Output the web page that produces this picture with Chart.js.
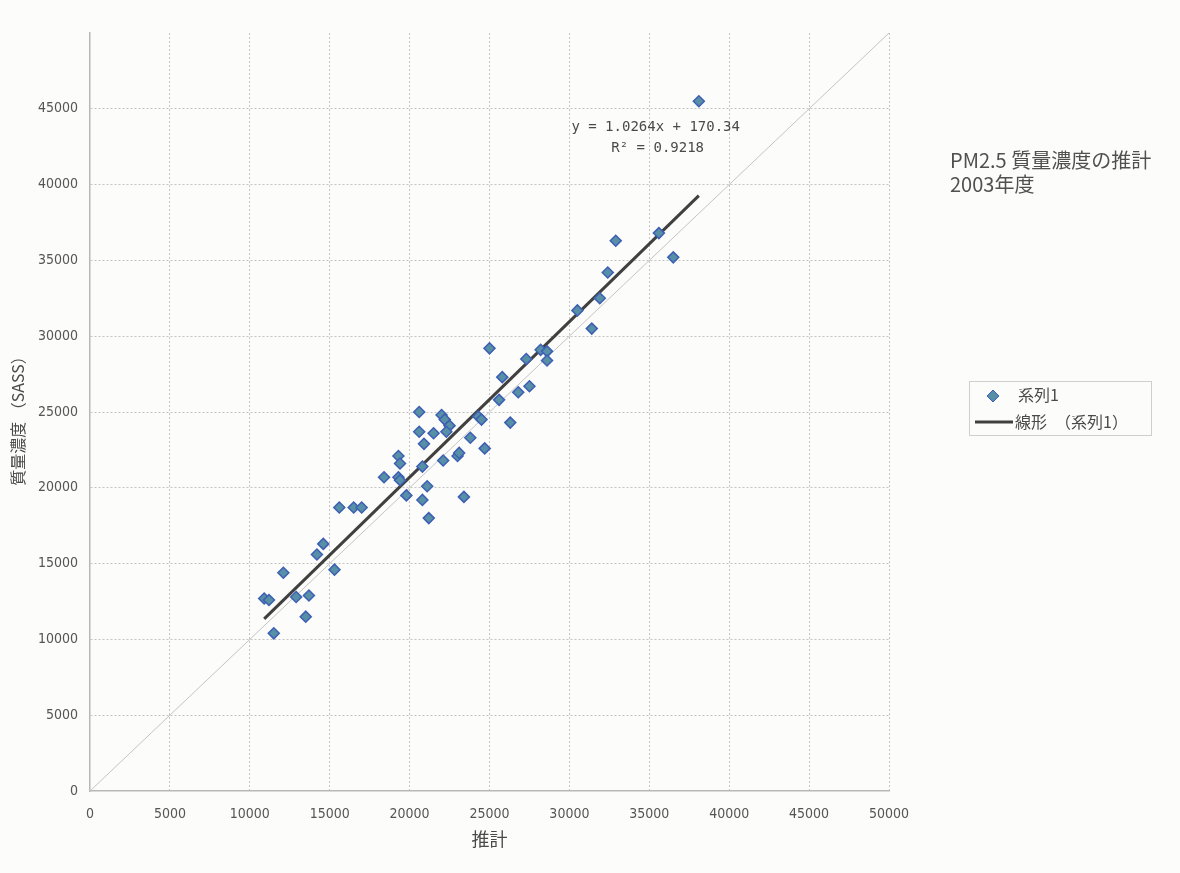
<!DOCTYPE html>
<html lang="ja">
<head>
<meta charset="utf-8">
<title>PM2.5 質量濃度の推計 2003年度</title>
<script src="https://cdn.jsdelivr.net/npm/chart.js@4/dist/chart.umd.min.js"></script>
<style>
  html, body { margin: 0; padding: 0; background: #fcfcfa; }
  #wrap { position: relative; width: 1180px; height: 873px; }
</style>
</head>
<body>
<div id="wrap"><canvas id="c" width="1180" height="873"></canvas></div>
<script>
// 推計値 (x) と SASS 実測の質量濃度 (y)
const estimate = [
  10900, 11200, 12100, 12900, 13700, 13500, 11500, 14200, 14600, 15300, 15600, 16500, 17000,
  18400, 19300, 19400, 19300, 19400, 19800, 20600, 20600, 20800, 20800, 20900, 21100, 21200,
  21500, 22000, 22200, 22500, 22300, 22100, 23000, 23100, 23400, 23800, 24300, 24500, 24700,
  25000, 25600, 25800, 26300, 26800, 27300, 27500, 28200, 28600, 28600, 30500, 31400, 31900,
  32400, 32900, 35600, 36500, 38100
];
const massSASS = [
  12700, 12600, 14400, 12800, 12900, 11500, 10400, 15600, 16300, 14600, 18700, 18700, 18700,
  20700, 20700, 20500, 22100, 21600, 19500, 25000, 23700, 21400, 19200, 22900, 20100, 18000,
  23600, 24800, 24500, 24100, 23700, 21800, 22100, 22300, 19400, 23300, 24700, 24500, 22600,
  29200, 25800, 27300, 24300, 26300, 28500, 26700, 29100, 29000, 28400, 31700, 30500, 32500,
  34200, 36300, 36800, 35200, 45500
];

// 近似直線 y = 1.0264x + 170.34
const slope = 1.0264;
const intercept = 170.34;
const rSquared = 0.9218;

// 軸の目盛
const axisMax = 50000;
const tickStep = 5000;

const seriesName = '系列1';
const trendName = '線形　（系列1）';
const titleLines = ['PM2.5 質量濃度の推計', '2003年度'];
const xTitle = '推計';
const yTitle = '質量濃度 （SASS）';

const points = estimate.map((x, i) => ({ x, y: massSASS[i] }));
const xMin = Math.min(...estimate);
const xMax = Math.max(...estimate);
const trend = [xMin, xMax].map(x => ({ x, y: slope * x + intercept }));
const diagonal = [{ x: 0, y: 0 }, { x: axisMax, y: axisMax }];

const jp = '"Noto Sans CJK JP", "Noto Sans", sans-serif';
const tickFont = { family: '"DejaVu Sans Condensed", "DejaVu Sans", sans-serif', size: 14 };

// 軸タイトル・式・凡例・右側の見出し
const annotations = {
  id: 'annotations',
  afterDraw(chart) {
    const { ctx, scales } = chart;
    ctx.save();
    ctx.fillStyle = '#4a4a4a';
    ctx.textBaseline = 'middle';

    // 回帰式
    ctx.font = '14px "DejaVu Sans Mono", monospace';
    ctx.textAlign = 'center';
    const ex = scales.x.getPixelForValue(35400);
    const ey = scales.y.getPixelForValue(43800);
    ctx.fillText('y = ' + slope.toFixed(4) + 'x + ' + intercept.toFixed(2), ex, ey);
    ctx.fillText('R² = ' + rSquared.toFixed(4), ex + 2, ey + 21);

    // 軸タイトル
    ctx.font = '18px ' + jp;
    ctx.fillText(xTitle, (chart.chartArea.left + chart.chartArea.right) / 2, 839);
    ctx.save();
    ctx.translate(18, 417);
    ctx.rotate(-Math.PI / 2);
    ctx.font = '16px ' + jp;
    ctx.fillText(yTitle, 0, 0);
    ctx.restore();

    // 見出し
    ctx.textAlign = 'left';
    ctx.font = '20px ' + jp;
    ctx.fillStyle = '#505050';
    ctx.fillText(titleLines[0], 950, 160);
    ctx.fillText(titleLines[1], 950, 184);

    // 凡例
    ctx.strokeStyle = '#cfcfcf';
    ctx.lineWidth = 1;
    ctx.strokeRect(969.5, 381.5, 182, 54);
    const ds0 = chart.data.datasets[0];
    ctx.beginPath();
    ctx.moveTo(993, 390); ctx.lineTo(999, 396); ctx.lineTo(993, 402); ctx.lineTo(987, 396); ctx.closePath();
    ctx.fillStyle = ds0.pointBackgroundColor;
    ctx.fill();
    ctx.strokeStyle = ds0.pointBorderColor;
    ctx.stroke();
    ctx.strokeStyle = chart.data.datasets[1].borderColor;
    ctx.lineWidth = 3;
    ctx.beginPath(); ctx.moveTo(975, 422); ctx.lineTo(1013, 422); ctx.stroke();
    ctx.fillStyle = '#4a4a4a';
    ctx.font = '16px ' + jp;
    ctx.fillText(seriesName, 1018, 395);
    ctx.fillText(trendName, 1015, 422);
    ctx.restore();
  }
};

new Chart(document.getElementById('c'), {
  data: {
    datasets: [
      {
        type: 'scatter',
        label: seriesName,
        data: points,
        pointStyle: 'rectRot',
        pointRadius: 5.5,
        pointBackgroundColor: '#568fa6',
        pointBorderColor: '#3d5fb4',
        pointBorderWidth: 1.5,
        order: 1
      },
      {
        type: 'line',
        label: trendName,
        data: trend,
        borderColor: '#404040',
        borderWidth: 3,
        pointRadius: 0,
        order: 2
      },
      {
        type: 'line',
        label: 'y = x',
        data: diagonal,
        borderColor: '#c4c4c4',
        borderWidth: 1,
        pointRadius: 0,
        order: 3
      }
    ]
  },
  options: {
    responsive: false,
    animation: false,
    layout: { padding: { left: 0, top: 33, right: 291, bottom: 32 } },
    plugins: { legend: { display: false }, tooltip: { enabled: false } },
    scales: {
      x: {
        type: 'linear',
        min: 0,
        max: axisMax,
        afterFit(s) { s.height = 50; },
        ticks: { stepSize: tickStep, color: '#555', font: tickFont, padding: 15, maxRotation: 0, callback: v => String(v) },
        grid: {
          drawTicks: false,
          color: c => c.tick && c.tick.value === 0 ? 'rgba(0,0,0,0)' : '#c4c4c4',
          lineWidth: 1
        },
        border: { display: true, color: '#b8b8b8', width: 1.5, dash: [2, 2] }
      },
      y: {
        type: 'linear',
        min: 0,
        max: axisMax,
        afterFit(s) { s.width = 90; },
        ticks: {
          stepSize: tickStep,
          color: '#555',
          font: tickFont,
          padding: 12,
          callback: v => v === axisMax ? '' : String(v)
        },
        grid: {
          drawTicks: false,
          color: c => c.tick && (c.tick.value === 0 || c.tick.value === axisMax) ? 'rgba(0,0,0,0)' : '#c4c4c4',
          lineWidth: 1
        },
        border: { display: true, color: '#b8b8b8', width: 1.5, dash: [2, 2] }
      }
    }
  },
  plugins: [annotations]
});
</script>
</body>
</html>
